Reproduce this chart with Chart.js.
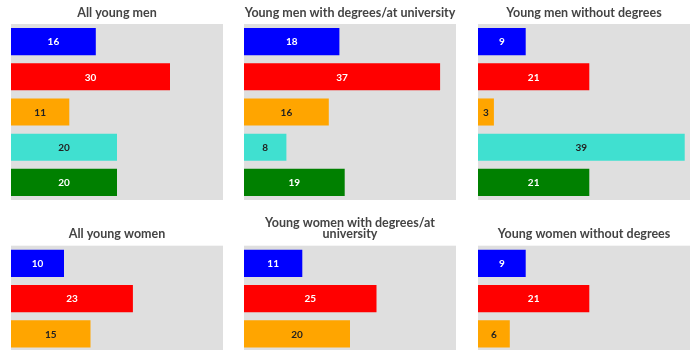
<!DOCTYPE html>
<html>
<head>
<meta charset="utf-8">
<script src="https://cdn.jsdelivr.net/npm/chart.js@4/dist/chart.umd.min.js"></script>
<style>
  html, body { margin: 0; padding: 0; background: #ffffff; width: 700px; height: 350px; overflow: hidden; }
  .c { position: absolute; }
</style>
</head>
<body>
<div class="c" style="left:11px;top:0px;width:212px;height:200px"><canvas id="c0"></canvas></div>
<div class="c" style="left:244px;top:0px;width:212px;height:200px"><canvas id="c1"></canvas></div>
<div class="c" style="left:478px;top:0px;width:212px;height:200px"><canvas id="c2"></canvas></div>
<div class="c" style="left:11px;top:200px;width:212px;height:222px"><canvas id="c3"></canvas></div>
<div class="c" style="left:244px;top:200px;width:212px;height:222px"><canvas id="c4"></canvas></div>
<div class="c" style="left:478px;top:200px;width:212px;height:222px"><canvas id="c5"></canvas></div>
<script>
// ---- Data ----
const categories = ["Option A", "Option B", "Option C", "Option D", "Option E"];
const barColors = ["#0000ff", "#ff0000", "#ffa500", "#40e0d0", "#008000"];
const labelColors = ["#ffffff", "#ffffff", "#222222", "#222222", "#ffffff"];

const titleAllMen = ["All young men"];
const titleMenDegrees = ["Young men with degrees/at university"];
const titleMenNoDegrees = ["Young men without degrees"];
const titleAllWomen = ["All young women"];
const titleWomenDegrees = ["Young women with degrees/at", "university"];
const titleWomenNoDegrees = ["Young women without degrees"];

const allMen = [16, 30, 11, 20, 20];
const menDegrees = [18, 37, 16, 8, 19];
const menNoDegrees = [9, 21, 3, 39, 21];
// Bottom row: only first three bars visible in the reference
const allWomen = [10, 23, 15, null, null];
const womenDegrees = [11, 25, 20, null, null];
const womenNoDegrees = [9, 21, 6, null, null];

const axisMax = 40;

// ---- Plugins ----
const bgPlugin = {
  id: 'panelBg',
  beforeDraw(chart) {
    const a = chart.chartArea;
    const ctx = chart.ctx;
    ctx.save();
    ctx.fillStyle = '#dfdfdf';
    ctx.fillRect(a.left, a.top, a.right - a.left, a.bottom - a.top);
    ctx.restore();
  }
};
const labelPlugin = {
  id: 'barLabels',
  afterDatasetsDraw(chart) {
    const ctx = chart.ctx;
    const meta = chart.getDatasetMeta(0);
    const data = chart.data.datasets[0].data;
    ctx.save();
    ctx.font = 'bold 10px Lato, "DejaVu Sans", sans-serif';
    ctx.textAlign = 'center';
    ctx.textBaseline = 'middle';
    meta.data.forEach((bar, i) => {
      if (data[i] === null || data[i] === undefined) return;
      const p = bar.getProps(['x', 'y', 'base'], true);
      ctx.fillStyle = labelColors[i];
      ctx.fillText(String(data[i]), (p.x + p.base) / 2, p.y + 0.5);
    });
    ctx.restore();
  }
};

function makeChart(id, title, values, padTop, padBottom) {
  new Chart(document.getElementById(id), {
    type: 'bar',
    data: {
      labels: categories,
      datasets: [{
        data: values,
        backgroundColor: barColors,
        borderWidth: 0,
        barPercentage: 0.77,
        categoryPercentage: 1.0
      }]
    },
    options: {
      indexAxis: 'y',
      responsive: true,
      maintainAspectRatio: false,
      animation: false,
      layout: { padding: 0 },
      scales: {
        x: { display: false, min: 0, max: axisMax, grid: { display: false } },
        y: { display: false, grid: { display: false } }
      },
      plugins: {
        legend: { display: false },
        tooltip: { enabled: false },
        title: {
          display: true,
          text: title,
          color: '#444444',
          font: { family: 'Lato, "DejaVu Sans", sans-serif', size: 12.5, weight: 'bold', lineHeight: '11px' },
          padding: { top: padTop, bottom: padBottom }
        }
      }
    },
    plugins: [bgPlugin, labelPlugin]
  });
}

makeChart('c0', titleAllMen, allMen, 7.5, 5.5);
makeChart('c1', titleMenDegrees, menDegrees, 7.5, 5.5);
makeChart('c2', titleMenNoDegrees, menNoDegrees, 7.5, 5.5);
makeChart('c3', titleAllWomen, allWomen, 28.5, 6.2);
makeChart('c4', titleWomenDegrees, womenDegrees, 17.8, 5.9);
makeChart('c5', titleWomenNoDegrees, womenNoDegrees, 28.5, 6.2);
</script>
</body>
</html>
